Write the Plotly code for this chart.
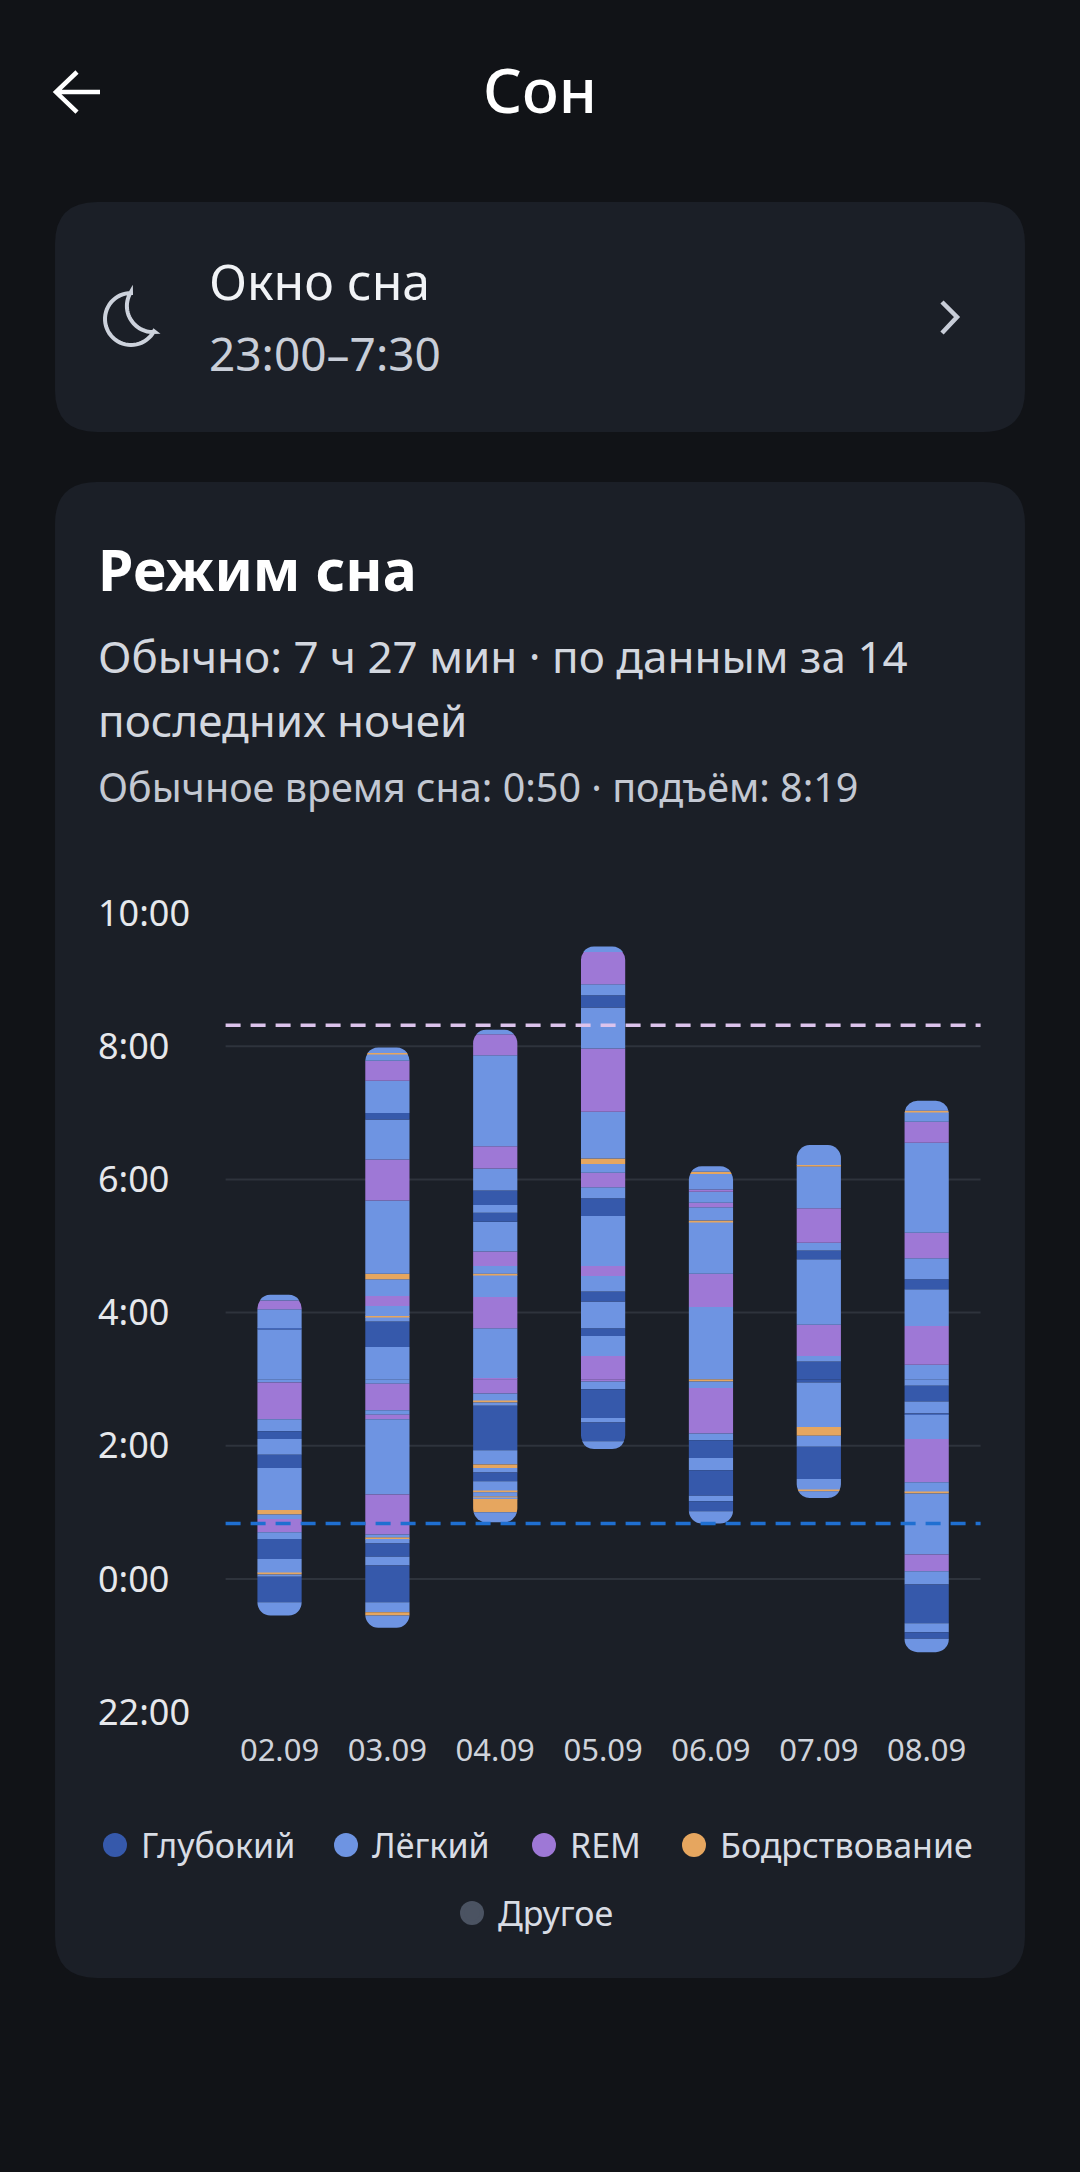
import numpy as np
import plotly.graph_objects as go

W, H = 1080, 2172

dates = ["02.09", "03.09", "04.09", "05.09", "06.09", "07.09", "08.09"]

# stage boundaries, minutes after midnight (negative = evening before), bedtime -> wake
edges_0209 = [-33, -21, 2, 4, 5, 18, 36, 42, 54, 58, 62, 100, 112, 126, 133, 144, 177, 225, 226, 243, 251, 256]
stages_0209 = ["L", "D", "L", "A", "L", "D", "L", "R", "L", "A", "L", "D", "L", "D", "L", "R", "L", "D", "L", "R", "L"]

edges_0309 = [-44, -33, -30, -21, 12, 20, 32, 36, 37, 40, 76, 144, 148, 152, 176, 209, 232, 236, 237, 246, 255, 270,
              275, 341, 378, 414, 420, 449, 467, 473, 474, 479]
stages_0309 = ["L", "A", "L", "D", "L", "D", "L", "A", "L", "R", "L", "R", "L", "R", "L", "D", "L", "A", "L", "R", "L",
               "A", "L", "R", "L", "D", "L", "R", "L", "A", "L"]

edges_0409 = [51, 60, 72, 73, 74, 78, 79, 88, 96, 100, 103, 116, 156, 159, 160, 167, 181, 226, 254, 274, 275, 282, 295,
              322, 330, 337, 350, 370, 390, 472, 491, 495]
stages_0409 = ["L", "A", "L", "A", "L", "A", "L", "D", "L", "A", "L", "D", "L", "A", "L", "R", "L", "R", "L", "A", "L",
               "R", "L", "D", "L", "D", "L", "R", "L", "R", "L"]

edges_0509 = [117, 124, 141, 145, 171, 178, 201, 219, 226, 250, 259, 273, 282, 327, 343, 353, 366, 374, 379, 421, 478,
              515, 526, 536, 565, 570]
stages_0509 = ["L", "D", "L", "D", "L", "R", "L", "D", "L", "D", "L", "R", "L", "D", "L", "R", "L", "A", "L", "R", "L",
               "D", "L", "R", "L"]

edges_0609 = [50, 61, 70, 75, 98, 109, 125, 131, 172, 178, 180, 245, 275, 322, 323, 335, 339, 349, 351, 365, 367, 372]
stages_0609 = ["L", "D", "L", "D", "L", "D", "L", "R", "L", "A", "L", "R", "L", "A", "L", "R", "L", "R", "L", "A", "L"]

edges_0709 = [73, 79, 80, 90, 119, 129, 137, 177, 196, 201, 229, 288, 296, 303, 334, 372, 373, 391]
stages_0709 = ["L", "A", "L", "D", "L", "A", "L", "D", "L", "R", "L", "D", "L", "R", "L", "A", "L"]

edges_0809 = [-66, -54, -48, -40, -5, 7, 22, 77, 78, 87, 126, 148, 149, 160, 174, 193, 228, 261, 270, 289, 312, 393,
              412, 421, 422, 431]
stages_0809 = ["L", "D", "L", "D", "L", "R", "L", "A", "L", "R", "L", "D", "L", "D", "L", "R", "L", "D", "L", "R", "L",
               "R", "L", "A", "L"]

night_edges = [edges_0209, edges_0309, edges_0409, edges_0509, edges_0609, edges_0709, edges_0809]
night_stages = [stages_0209, stages_0309, stages_0409, stages_0509, stages_0609, stages_0709, stages_0809]

legend_keys = ["D", "L", "R", "A", "O"]
legend_names = ["Глубокий", "Лёгкий", "REM", "Бодрствование", "Другое"]
legend_colors = ["#3659ab", "#6e94e2", "#9e78d6", "#e6a65f", "#4b5362"]
stage_colors = dict(zip(legend_keys, legend_colors))

tick_hours = [-2, 0, 2, 4, 6, 8, 10]
tick_labels = ["22:00", "0:00", "2:00", "4:00", "6:00", "8:00", "10:00"]
grid_hours = [0, 2, 4, 6, 8]

usual_bed = 50    # 0:50
usual_wake = 499  # 8:19

# bars are stacked up and down from 3:00 so both ends get rounded
PIVOT = 180


def px(x):
    return x / W


def py(y):
    return 1 - y / H


def path_of(points, close=False):
    s = "M " + " L ".join(f"{px(x):.5f},{py(y):.5f}" for x, y in points)
    return s + (" Z" if close else "")


def rounded_rect(x0, y0, x1, y1, r):
    def p(x, y):
        return f"{px(x):.5f},{py(y):.5f}"
    return (f"M {p(x0 + r, y0)} L {p(x1 - r, y0)} Q {p(x1, y0)} {p(x1, y0 + r)} "
            f"L {p(x1, y1 - r)} Q {p(x1, y1)} {p(x1 - r, y1)} L {p(x0 + r, y1)} "
            f"Q {p(x0, y1)} {p(x0, y1 - r)} L {p(x0, y0 + r)} Q {p(x0, y0)} {p(x0 + r, y0)} Z")


ups, downs = [], []
for edges, stages in zip(night_edges, night_stages):
    up, down = [], []
    for s, e, st in zip(edges[:-1], edges[1:], stages):
        if e <= PIVOT:
            down.append((e - s, st))
        elif s >= PIVOT:
            up.append((e - s, st))
        else:
            down.append((PIVOT - s, st))
            up.append((e - PIVOT, st))
    ups.append(up)
    downs.append(down[::-1])

fig = go.Figure()

for side, sign in ((downs, -1), (ups, 1)):
    for k in range(max(len(p) for p in side)):
        ys, cols = [], []
        for p in side:
            if k < len(p):
                ys.append(sign * p[k][0] / 60)
                cols.append(stage_colors[p[k][1]])
            else:
                ys.append(None)
                cols.append("rgba(0,0,0,0)")
        fig.add_trace(go.Bar(x=dates, y=ys, width=0.41, marker=dict(color=cols, line=dict(width=0)),
                             showlegend=False, hoverinfo="skip"))

y_zero = 1578.9   # pixel row of 0:00
pph = 66.57       # pixels per hour
lo, hi = -2.4, 10.4
dom_bottom = y_zero - lo * pph
dom_top = y_zero - hi * pph

shapes = [
    dict(type="path", xref="paper", yref="paper", path=rounded_rect(55, 202, 1025, 432, 42),
         fillcolor="#1b1f27", line=dict(width=0), layer="below"),
    dict(type="path", xref="paper", yref="paper", path=rounded_rect(55, 482, 1025, 1978, 42),
         fillcolor="#1b1f27", line=dict(width=0), layer="below"),
]

# legend: one small legend per entry so the rows sit like the app's
legend_pos = [(115, 1845), (346, 1845), (544, 1845), (694, 1845), (472, 1913)]
legend_layout = {}
for i, (name, col, (cx, cy)) in enumerate(zip(legend_names, legend_colors, legend_pos)):
    lid = "legend" if i == 0 else f"legend{i + 1}"
    fig.add_trace(go.Scatter(x=[None], y=[None], mode="markers", name=name, legend=lid,
                             marker=dict(size=16, color=col)))
    legend_layout[lid] = dict(x=px(cx - 26), y=py(cy), xanchor="left", yanchor="middle", itemwidth=42,
                              bgcolor="rgba(0,0,0,0)", font=dict(size=34, color="#d8dce4"),
                              itemclick=False, itemdoubleclick=False)
    # legend symbols are capped in size, so draw the app's bigger dot on top
    shapes.append(dict(type="circle", xref="paper", yref="paper",
                       x0=px(cx - 12), x1=px(cx + 12), y0=py(cy + 12), y1=py(cy - 12),
                       fillcolor=col, line=dict(width=0), layer="above"))

for g in grid_hours:
    shapes.append(dict(type="line", xref="x domain", yref="y", x0=0, x1=1, y0=g - PIVOT / 60, y1=g - PIVOT / 60,
                       line=dict(color="#2e333c", width=2), layer="below"))
shapes.append(dict(type="line", xref="x domain", yref="y", x0=0, x1=1,
                   y0=usual_wake / 60 - PIVOT / 60, y1=usual_wake / 60 - PIVOT / 60,
                   line=dict(color="#dcc3ec", width=3.5, dash="15px,10px"), layer="above"))
shapes.append(dict(type="line", xref="x domain", yref="y", x0=0, x1=1,
                   y0=usual_bed / 60 - PIVOT / 60, y1=usual_bed / 60 - PIVOT / 60,
                   line=dict(color="#1f6fd1", width=3.5, dash="15px,10px"), layer="above"))

# back arrow and chevron
shapes.append(dict(type="path", xref="paper", yref="paper",
                   path=path_of([(100, 92), (57, 92)]) + " " + path_of([(77, 72), (56, 92), (77, 112)]),
                   line=dict(color="#ffffff", width=4.5)))
shapes.append(dict(type="path", xref="paper", yref="paper",
                   path=path_of([(942, 302), (957, 317), (942, 333)]),
                   line=dict(color="#c8cdd8", width=4.5)))

# crescent moon icon
t1 = np.radians(np.linspace(270, 28, 40))
t2 = np.radians(np.linspace(85.6, 212.5, 30))
moon = [(131 + 26 * np.cos(t), 319 + 26 * np.sin(t)) for t in t1]
moon += [(153 + 26.1 * np.cos(t), 306 + 26.1 * np.sin(t)) for t in t2]
shapes.append(dict(type="path", xref="paper", yref="paper", path=path_of(moon, close=True),
                   line=dict(color="#cdd2dc", width=4)))


def label(text, x, y, size, color, anchor="left", weight=400):
    return dict(text=text, x=px(x), y=py(y), xref="paper", yref="paper", xanchor=anchor, yanchor="middle",
                showarrow=False, font=dict(size=size, color=color, weight=weight))


annotations = [
    label("Сон", 540, 90, 61, "#ffffff", anchor="center", weight=500),
    label("Окно сна", 207, 281, 50, "#f1f3f6"),
    label("23:00–7:30", 207, 353, 46, "#c9ced8"),
    label("Режим сна", 96, 569, 57, "#ffffff", weight=700),
    label("Обычно: 7 ч 27 мин · по данным за 14", 96, 656, 44, "#d3d7df"),
    label("последних ночей", 96, 720, 44, "#d3d7df"),
    label("Обычное время сна: 0:50 · подъём: 8:19", 96, 787, 39.5, "#c3c8d2"),
]

fig.update_layout(
    width=W, height=H,
    margin=dict(l=0, r=0, t=0, b=0),
    template="none",
    paper_bgcolor="#111317",
    plot_bgcolor="rgba(0,0,0,0)",
    font=dict(family="Noto Sans", color="#e6e8ec"),
    barmode="relative",
    barcornerradius=13,
    showlegend=True,
    shapes=shapes,
    annotations=annotations,
    xaxis=dict(type="category", categoryorder="array", categoryarray=dates, range=[-0.5, 6.5],
               domain=[225.6 / W, 980.6 / W], anchor="free", position=py(1729),
               showgrid=False, zeroline=False, showline=False, ticks="",
               tickfont=dict(size=31, color="#cfd3db"), fixedrange=True),
    yaxis=dict(range=[lo - PIVOT / 60, hi - PIVOT / 60], domain=[py(dom_bottom), py(dom_top)],
               tickmode="array", tickvals=[h - PIVOT / 60 for h in tick_hours], ticktext=tick_labels,
               anchor="free", position=px(97), side="right", showgrid=False, zeroline=False,
               showline=False, ticks="", tickfont=dict(size=36, color="#e6e8ec"), fixedrange=True),
    **legend_layout,
)

fig.write_html("out.html", config={"displayModeBar": False},
               post_script="document.body.style.margin='0';document.body.style.background='#111317';")
